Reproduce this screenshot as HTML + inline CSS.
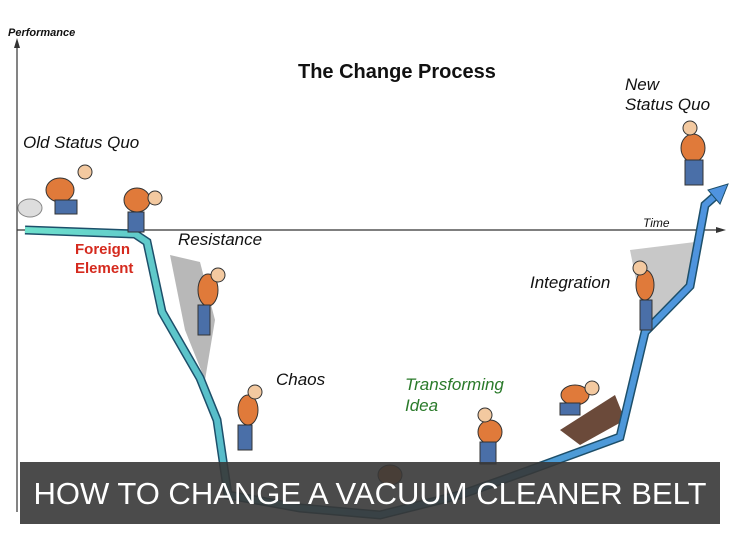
<!DOCTYPE html><html><head><style>
body{margin:0;width:740px;height:554px;background:#fff;position:relative;overflow:hidden;font-family:"Liberation Sans",sans-serif}
.t{position:absolute;font-style:italic;font-size:17px;color:#111;white-space:nowrap}
</style></head><body>
<svg width="740" height="554" style="position:absolute;left:0;top:0">
<defs><linearGradient id="g" x1="0" x2="1"><stop offset="0" stop-color="#6ee0cc"/><stop offset="0.45" stop-color="#4aa8c8"/><stop offset="1" stop-color="#4f93e0"/></linearGradient></defs>
<line x1="17" y1="42" x2="17" y2="512" stroke="#333" stroke-width="1.2"/>
<polygon points="17,38 14,48 20,48" fill="#333"/>
<line x1="17" y1="230" x2="722" y2="230" stroke="#333" stroke-width="1.2"/>
<polygon points="726,230 716,227 716,233" fill="#333"/>
<path d="M170,255 L200,262 L215,320 L205,380 L185,330 Z" fill="#9a9a9a" opacity=".7"/>
<path d="M630,250 L695,242 L690,285 L650,330 L640,300 Z" fill="#b0b0b0" opacity=".7"/>
<path d="M560,430 L615,395 L625,420 L580,445 Z" fill="#6b4a3a"/>
<polyline points="25,230 135,234 147,242 162,312 200,378 217,420 228,495 300,508 380,515 460,495 530,470 620,437 645,332 690,286 705,205 722,190" fill="none" stroke="#1d4f6a" stroke-width="9" stroke-linejoin="miter"/>
<polyline points="25,230 135,234 147,242 162,312 200,378 217,420 228,495 300,508 380,515 460,495 530,470 620,437 645,332 690,286 705,205 722,190" fill="none" stroke="url(#g)" stroke-width="6" stroke-linejoin="miter"/>
<polygon points="728,184 708,190 720,204" fill="#4f93e0" stroke="#1d4f6a"/>
<g fill="#e07a3a" stroke="#333" stroke-width="1">
<ellipse cx="60" cy="190" rx="14" ry="12"/><ellipse cx="137" cy="200" rx="13" ry="12"/>
<ellipse cx="208" cy="290" rx="10" ry="16"/><ellipse cx="248" cy="410" rx="10" ry="15"/>
<ellipse cx="490" cy="432" rx="12" ry="12"/><ellipse cx="575" cy="395" rx="14" ry="10"/>
<ellipse cx="645" cy="285" rx="9" ry="15"/><ellipse cx="693" cy="148" rx="12" ry="14"/>
<ellipse cx="390" cy="475" rx="12" ry="10"/>
</g>
<g fill="#4a6fa8" stroke="#333" stroke-width="1">
<rect x="55" y="200" width="22" height="14"/><rect x="128" y="212" width="16" height="20"/>
<rect x="198" y="305" width="12" height="30"/><rect x="238" y="425" width="14" height="25"/>
<rect x="480" y="442" width="16" height="22"/><rect x="560" y="403" width="20" height="12"/>
<rect x="640" y="300" width="12" height="30"/><rect x="685" y="160" width="18" height="25"/>
</g>
<g fill="#f3c9a0" stroke="#333" stroke-width="1">
<circle cx="85" cy="172" r="7"/><circle cx="155" cy="198" r="7"/><circle cx="218" cy="275" r="7"/>
<circle cx="255" cy="392" r="7"/><circle cx="485" cy="415" r="7"/><circle cx="592" cy="388" r="7"/>
<circle cx="640" cy="268" r="7"/><circle cx="690" cy="128" r="7"/>
</g>
<ellipse cx="30" cy="208" rx="12" ry="9" fill="#ddd" stroke="#888"/>
</svg>
<div class="t" style="left:8px;top:27px;font-size:11px;font-weight:bold">Performance</div>
<div style="position:absolute;left:298px;top:61px;font-size:20px;font-weight:bold;color:#111">The Change Process</div>
<div class="t" style="left:23px;top:133px">Old Status Quo</div>
<div class="t" style="left:625px;top:75px">New<br>Status Quo</div>
<div class="t" style="left:643px;top:216px;font-size:12px">Time</div>
<div style="position:absolute;left:75px;top:240px;font-size:15px;font-weight:bold;color:#d52a1e;line-height:19px">Foreign<br>Element</div>
<div class="t" style="left:178px;top:230px">Resistance</div>
<div class="t" style="left:276px;top:370px">Chaos</div>
<div class="t" style="left:405px;top:374px;color:#2a7a2a;line-height:21px">Transforming<br>Idea</div>
<div class="t" style="left:530px;top:273px">Integration</div>
<div style="position:absolute;left:20px;top:462px;width:700px;height:62px;background:rgba(55,55,55,0.9);color:#fff;font-size:31px;line-height:64px;text-align:center">HOW TO CHANGE A VACUUM CLEANER BELT</div>
</body></html>
